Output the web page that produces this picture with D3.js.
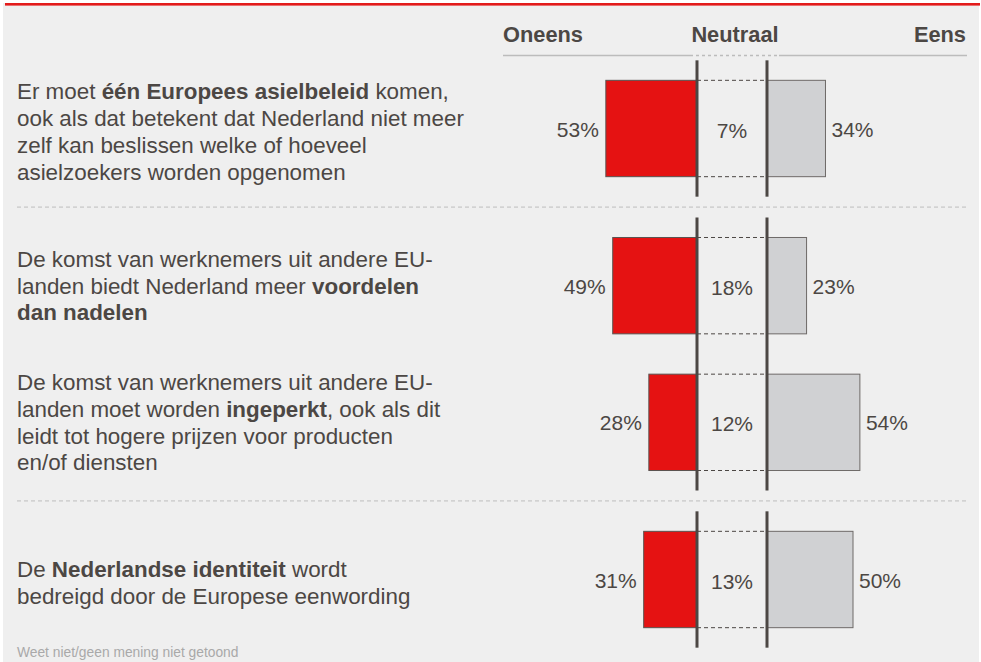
<!DOCTYPE html>
<html lang="nl">
<head>
<meta charset="utf-8">
<title>Europa stellingen</title>
<script src="https://d3js.org/d3.v7.min.js"></script>
<style>
  body { margin: 0; background: #fff; }
  svg { display: block; font-family: "Liberation Sans", Arial, sans-serif; }
</style>
</head>
<body>
<script>
// data
const statements = [
  ["Er moet **één Europees asielbeleid** komen,", "ook als dat betekent dat Nederland niet meer", "zelf kan beslissen welke of hoeveel", "asielzoekers worden opgenomen"],
  ["De komst van werknemers uit andere EU-", "landen biedt Nederland meer **voordelen**", "**dan nadelen**"],
  ["De komst van werknemers uit andere EU-", "landen moet worden **ingeperkt**, ook als dit", "leidt tot hogere prijzen voor producten", "en/of diensten"],
  ["De **Nederlandse identiteit** wordt", "bedreigd door de Europese eenwording"]
];
const groupOf = [0, 1, 1, 2];
const oneens = [53, 49, 28, 31];
const neutraal = [7, 18, 12, 13];
const eens = [34, 23, 54, 50];
const headers = ["Oneens", "Neutraal", "Eens"];
const footnote = "Weet niet/geen mening niet getoond";

const W = 981, H = 662;
const textColor = "#4c4744";
const gap = 0.15;   // extra space between groups, in rows

const svg = d3.select("body").append("svg")
    .attr("width", W).attr("height", H);

// background and red top rule
svg.append("rect").attr("x", 3).attr("y", 3).attr("width", W - 5).attr("height", H - 3)
    .attr("fill", "#efefef");
svg.append("rect").attr("x", 5).attr("y", 3).attr("width", W - 6).attr("height", 2.6)
    .attr("fill", "#e31b1b");

// scales
const slot = d => d.i + groupOf[d.i] * gap;
const yScale = d3.scaleLinear().domain([0, 3 + 2 * gap]).range([128.5, 579.5]);
const barH = (yScale(1) - yScale(0)) * 0.705;
const xLeft = d3.scaleLinear().domain([0, 100]).range([697, 525]);
const xRight = d3.scaleLinear().domain([0, 100]).range([767, 939]);
const xMid = (xLeft(0) + xRight(0)) / 2;

const rows = oneens.map((v, i) => ({i, oneens: v, neutraal: neutraal[i], eens: eens[i], lines: statements[i]}));
rows.forEach(d => { d.y = yScale(slot(d)); });

// headers
const head = svg.append("g").attr("fill", textColor)
    .style("font-weight", "bold").style("font-size", "21.8px");
head.append("text").attr("x", 503).attr("y", 42).text(headers[0]);
head.append("text").attr("x", xMid + 3).attr("y", 42).attr("text-anchor", "middle").text(headers[1]);
head.append("text").attr("x", 966).attr("y", 42).attr("text-anchor", "end").text(headers[2]);

svg.append("line").attr("x1", 503).attr("x2", xLeft(0) - 7).attr("y1", 55.5).attr("y2", 55.5)
    .attr("stroke", "#bcbcbc").attr("stroke-width", 1.5);
svg.append("line").attr("x1", xLeft(0) - 7).attr("x2", xRight(0) + 12).attr("y1", 55.5).attr("y2", 55.5)
    .attr("stroke", "#bcbcbc").attr("stroke-width", 1.5).attr("stroke-dasharray", "3,3");
svg.append("line").attr("x1", xRight(0) + 12).attr("x2", 967).attr("y1", 55.5).attr("y2", 55.5)
    .attr("stroke", "#bcbcbc").attr("stroke-width", 1.5);

// group extents
const groups = d3.groups(rows, d => groupOf[d.i]).map(([g, rs]) => ({
  g, top: d3.min(rs, d => d.y) - barH / 2 - 20, bottom: d3.max(rs, d => d.y) + barH / 2 + 20
}));

// separators
groups.slice(1).forEach((g, k) => {
  const ySep = (groups[k].bottom + g.top) / 2;
  svg.append("line").attr("x1", 17).attr("x2", 966).attr("y1", ySep).attr("y2", ySep)
      .attr("stroke", "#bdbdbd").attr("stroke-width", 1).attr("stroke-dasharray", "4,3");
});

// statement labels
const lh = 26.7;
rows.forEach(d => {
  const t = svg.append("text").attr("fill", textColor).style("font-size", "22.4px");
  const y0 = d.y + (d.i === 0 || d.i === 3 ? 4 : 1) - (d.lines.length - 1) / 2 * lh + 7;
  d.lines.forEach((line, j) => {
    const parts = line.split("**");
    parts.forEach((p, k) => {
      if (!p) return;
      const ts = t.append("tspan").text(p).style("font-weight", k % 2 ? "bold" : "normal");
      if (k === 0 || (k === 1 && !parts[0])) ts.attr("x", 17).attr("y", y0 + j * lh);
    });
  });
});

// dashed guides across the neutral column
const dash = svg.append("g").attr("stroke", "#4c4744").attr("stroke-width", 1).attr("stroke-dasharray", "4,3");
rows.forEach(d => {
  [d.y - barH / 2, d.y + barH / 2].forEach(yy => {
    dash.append("line").attr("x1", xLeft(0)).attr("x2", xRight(0)).attr("y1", yy).attr("y2", yy);
  });
});

// bars
svg.append("g").selectAll("rect").data(rows).join("rect")
    .attr("x", d => xLeft(d.oneens)).attr("width", d => xLeft(0) - xLeft(d.oneens))
    .attr("y", d => d.y - barH / 2).attr("height", barH)
    .attr("fill", "#e51212").attr("stroke", "#5a5350").attr("stroke-width", 1);
svg.append("g").selectAll("rect").data(rows).join("rect")
    .attr("x", d => xRight(0)).attr("width", d => xRight(d.eens) - xRight(0))
    .attr("y", d => d.y - barH / 2).attr("height", barH)
    .attr("fill", "#d0d1d3").attr("stroke", "#6e6a68").attr("stroke-width", 1);

// vertical neutral lines
groups.forEach(g => {
  [xLeft(0), xRight(0)].forEach(x => {
    svg.append("line").attr("x1", x).attr("x2", x).attr("y1", g.top).attr("y2", g.bottom)
        .attr("stroke", "#4c4744").attr("stroke-width", 3);
  });
});

// percentage labels
const pct = svg.append("g").attr("fill", textColor).style("font-size", "21px");
pct.selectAll(".l").data(rows).join("text").attr("class", "l")
    .attr("x", d => xLeft(d.oneens) - 7).attr("y", d => d.y + 8).attr("text-anchor", "end")
    .text(d => d.oneens + "%");
pct.selectAll(".m").data(rows).join("text").attr("class", "m")
    .attr("x", xMid).attr("y", d => d.y + 9).attr("text-anchor", "middle")
    .text(d => d.neutraal + "%");
pct.selectAll(".r").data(rows).join("text").attr("class", "r")
    .attr("x", d => xRight(d.eens) + 6).attr("y", d => d.y + 8)
    .text(d => d.eens + "%");

// footnote
svg.append("text").attr("x", 17).attr("y", 657).attr("fill", "#a9a9a9")
    .style("font-size", "13.8px").text(footnote);
</script>
</body>
</html>
